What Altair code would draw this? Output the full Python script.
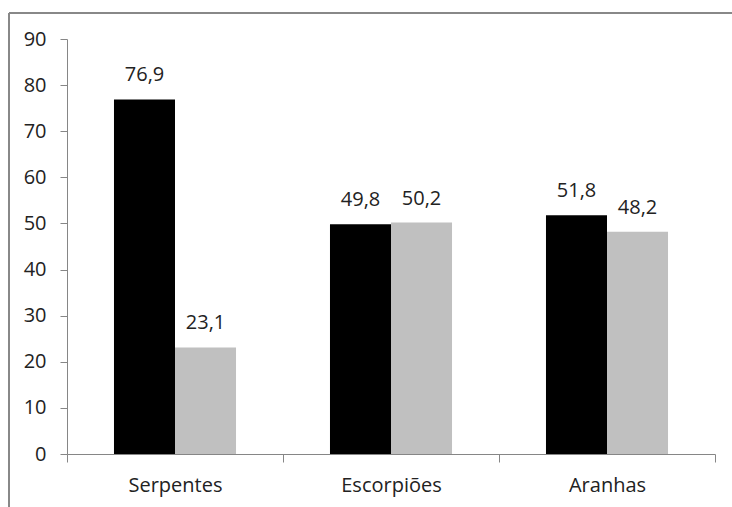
import altair as alt
import pandas as pd

categories = ["Serpentes", "Escorpiões", "Aranhas"]
series = ["A", "B"]
values_a = [76.9, 49.8, 51.8]
values_b = [23.1, 50.2, 48.2]
label_a = ["76,9", "49,8", "51,8"]
label_b = ["23,1", "50,2", "48,2"]
y_ticks = [0, 10, 20, 30, 40, 50, 60, 70, 80, 90]

rows = []
for i, c in enumerate(categories):
    rows.append({"cat": c, "serie": series[0], "valor": values_a[i], "rotulo": label_a[i]})
    rows.append({"cat": c, "serie": series[1], "valor": values_b[i], "rotulo": label_b[i]})
df = pd.DataFrame(rows)

FONT = "Open Sans"
AXIS_COLOR = "#868686"

x_enc = alt.X("cat:N", sort=categories, title=None,
              scale=alt.Scale(paddingInner=0, paddingOuter=0),
              axis=alt.Axis(labelAngle=0, tickBand="extent", tickSize=8,
                            labelPadding=13, labelFontSize=20, labelFont=FONT,
                            labelColor="#222222", domainColor=AXIS_COLOR,
                            tickColor=AXIS_COLOR, grid=False))
xoff = alt.XOffset("serie:N", sort=series,
                   scale=alt.Scale(paddingInner=0, paddingOuter=0.77))

base = alt.Chart(df)

bars = base.mark_bar().encode(
    x=x_enc,
    xOffset=xoff,
    y=alt.Y("valor:Q", title=None,
            scale=alt.Scale(domain=[0, 90], nice=False),
            axis=alt.Axis(values=y_ticks, tickSize=7, labelPadding=14,
                          labelFontSize=20, labelFont=FONT, labelColor="#222222",
                          domainColor=AXIS_COLOR, tickColor=AXIS_COLOR, grid=False)),
    color=alt.Color("serie:N", sort=series,
                    scale=alt.Scale(domain=series, range=["#000000", "#c0c0c0"]),
                    legend=None),
)

labels = base.mark_text(baseline="alphabetic", dy=-18, fontSize=20, font=FONT,
                        color="#222222").encode(
    x=alt.X("cat:N", sort=categories),
    xOffset=xoff,
    y="valor:Q",
    text="rotulo:N",
)

frame_top = alt.Chart(pd.DataFrame({"k": [0]})).mark_rule(
    color="#888888", strokeWidth=2).encode(
    x=alt.value(-58), x2=alt.value(680), y=alt.value(-26))
frame_left = alt.Chart(pd.DataFrame({"k": [0]})).mark_rule(
    color="#888888", strokeWidth=2).encode(
    x=alt.value(-58), y=alt.value(-26), y2=alt.value(480))

chart = alt.layer(bars, labels, frame_top, frame_left).properties(
    width=648, height=415,
    background="white",
    autosize=alt.AutoSizeParams(type="none"),
    padding={"left": 67, "top": 39, "right": 17, "bottom": 53},
).configure_view(strokeWidth=0, stroke="transparent")

chart.save("out.html", embed_options={"renderer": "svg", "actions": False})
